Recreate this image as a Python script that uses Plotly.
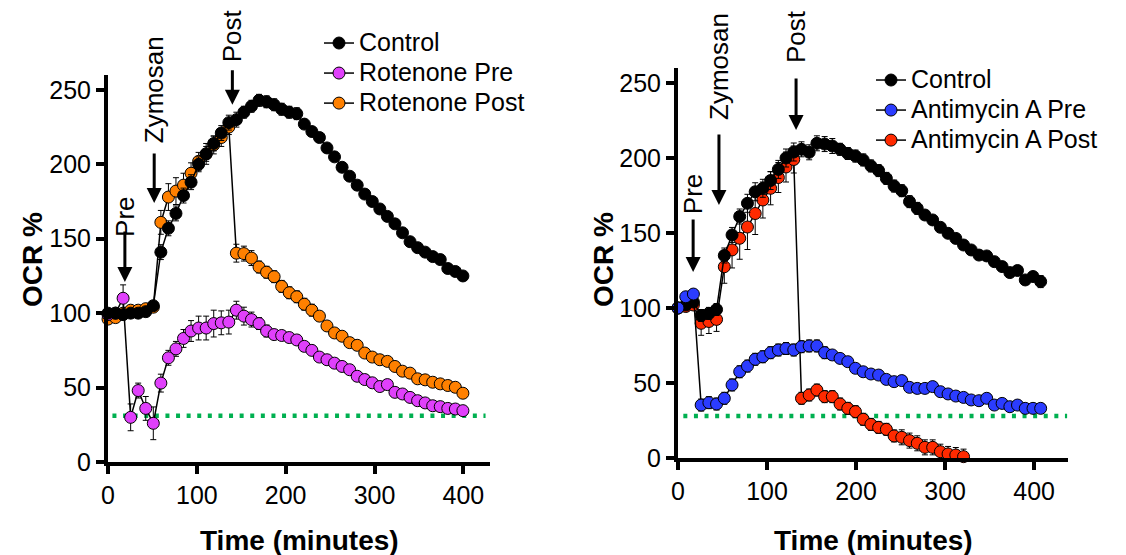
import plotly.graph_objects as go

# ---------------- data: left panel (Rotenone) ----------------
time_rot = [0, 8.5, 17, 25.5, 34, 42.5, 51, 59.5, 68, 76.5, 85, 93.5, 102, 110.5, 119, 127.5,
            136, 144.5, 153, 161.5, 170, 178.5, 187, 195.5, 204, 212.5, 221, 229.5, 238, 246.5,
            255, 263.5, 272, 280.5, 289, 297.5, 306, 314.5, 323, 331.5, 340, 348.5, 357, 365.5,
            374, 382.5, 391, 399.5]
control_rot = [100, 100, 99, 100, 100, 101, 105, 141, 157, 167, 179, 188, 200, 207, 214, 221,
               228, 230, 235, 239, 243, 242, 240, 237, 235, 234, 227, 222, 218, 211, 205, 198,
               192, 186, 180, 175, 170, 165, 160, 154, 148, 144, 141, 138, 136, 130, 128, 125]
control_rot_err = [2, 2, 2, 2, 2, 2, 3, 5, 5, 5, 5, 5, 5, 5, 5, 5, 5, 5, 4, 4, 4, 4, 4, 4,
                   4, 4, 3, 3, 3, 3, 3, 3, 3, 3, 3, 3, 3, 3, 3, 3, 3, 3, 3, 3, 3, 3, 3, 3]
rot_pre = [99, 100, 110, 30, 48, 36, 26, 53, 70, 76, 83, 88, 90, 90, 93, 93.5,
           94, 102, 98, 95.7, 93, 88, 85.6, 85, 83.6, 82, 77.7, 75, 70.5, 68.7, 66.4, 64.2,
           62, 57.6, 55.4, 53.2, 50.7, 52, 46.8, 45.7, 43.4, 41.2, 39.7, 37.8, 37.2, 36, 35.6, 34.5]
rot_pre_err = [3, 3, 9, 9, 5, 8, 11, 6, 5, 5, 6, 7, 8, 8, 9, 8, 8, 6, 6, 5, 4, 4, 3, 3,
               3, 3, 3, 3, 3, 3, 3, 3, 3, 3, 3, 3, 3, 3, 3, 3, 3, 3, 3, 3, 3, 3, 3, 3]
rot_post = [96, 97, 100, 102, 102, 103, 104, 161, 178, 182, 186, 194, 202, 207, 213, 218,
            225, 140.3, 140, 137, 131, 127.5, 124.5, 118, 113.7, 111, 106, 102, 98, 91.4, 86.7, 84.5,
            80.2, 78.4, 73.2, 70.5, 68.7, 67.6, 64.2, 61, 59.7, 55.9, 55.2, 53.6, 52.5, 51.4, 50.2, 46.2]
rot_post_err = [3, 3, 3, 3, 3, 3, 3, 8, 9, 9, 8, 7, 6, 7, 6, 6, 5, 6, 5, 5, 4, 4, 4, 4,
                4, 4, 4, 4, 3, 3, 3, 3, 3, 3, 3, 3, 3, 3, 3, 3, 3, 3, 3, 3, 3, 3, 3, 3]
threshold_rot = 31
threshold_rot_x = [5, 425]

# ---------------- data: right panel (Antimycin A) ----------------
time_ant = [0, 8.7, 17.3, 26, 34.7, 43.3, 52, 60.7, 69.3, 78, 86.7, 95.3, 104, 112.7, 121.3, 130,
            138.7, 147.3, 156, 164.7, 173.3, 182, 190.7, 199.3, 208, 216.7, 225.3, 234, 242.7, 251.3,
            260, 268.7, 277.3, 286, 294.7, 303.3, 312, 320.7, 329.3, 338, 346.7, 355.3, 364, 372.7,
            381.3, 390, 398.7, 407.3]
control_ant = [100, 102, 104, 95, 96.4, 99, 135, 148.7, 161, 169.8, 177.5, 179.8, 185, 192.4, 200, 204,
               205.8, 203.8, 209.8, 209.3, 208, 205.8, 203, 201.3, 198.7, 194.7, 191.6, 186.4, 181.3,
               178.2, 170.9, 166.4, 162, 158.7, 153.8, 149.8, 146.4, 142, 138.7, 135.3, 134.7, 130.9,
               127.6, 123.6, 125, 118.7, 121, 117.6]
control_ant_err = [3, 3, 3, 4, 4, 4, 5, 5, 5, 6, 6, 6, 6, 6, 6, 6, 5, 5, 5, 5, 5, 4, 4, 4,
                   4, 4, 4, 4, 4, 4, 4, 4, 3, 3, 3, 3, 3, 3, 3, 3, 3, 3, 3, 3, 3, 3, 3, 4]
ant_pre = [100, 107.5, 109.3, 35.3, 36.9, 36, 39.8, 48.7, 57.5, 61.3, 65.8, 67.5, 70.2, 72, 73, 72,
           74.2, 74.7, 74.7, 70.2, 68.7, 66.4, 64.2, 59.8, 57.5, 56, 55.3, 52.4, 50.9, 51.6, 47.1,
           46.4, 46.4, 47.6, 44.2, 42.7, 41.3, 40.4, 38.7, 38.2, 39.8, 35.3, 36.4, 34.2, 35.3, 33.1,
           33.1, 33.1]
ant_pre_err = [3, 3, 3, 4, 4, 4, 4, 4, 4, 4, 4, 4, 4, 4, 4, 4, 4, 4, 4, 4, 3, 3, 3, 3,
               3, 3, 3, 3, 3, 3, 3, 3, 3, 3, 3, 3, 3, 3, 3, 3, 3, 3, 3, 3, 3, 3, 3, 3]
ant_post = [100, 101, 102, 89.8, 91, 92.4, 127.5, 138.7, 146.5, 154, 163, 172, 179.8, 187, 194, 199,
            39.8, 42, 45.3, 40.9, 40.9, 36, 33.1, 30.9, 25.8, 22.4, 20.4, 19.1, 14.7, 13.8, 11.6,
            9.8, 7.1, 7.1, 4.2, 2.7, 2, 0.9]
ant_post_err = [3, 3, 3, 8, 8, 8, 11, 12, 14, 15, 14, 12, 11, 10, 10, 9, 4, 4, 4, 4, 4, 4, 4, 4,
                4, 4, 4, 4, 4, 5, 5, 5, 5, 5, 5, 5, 5, 5]
threshold_ant = 28
threshold_ant_x = [6, 437]

x_ticks = [0, 100, 200, 300, 400]
y_ticks = [0, 50, 100, 150, 200, 250]

FONT = "Liberation Sans, Arial, sans-serif"
PINK = "#e040fb"
ORANGE = "#ff8000"
BLUE = "#2b3cff"
RED = "#ff2a00"
GREEN = "#00b050"
W, H = 1126, 555

fig = go.Figure()


def legend_label(txt):
    return '<span style="font-size:25px">' + txt + '</span>'


def add_series(x, y, err, color, name, xa, ya, legend, rank):
    fig.add_trace(go.Scatter(
        x=x, y=y, mode="lines+markers", name=legend_label(name),
        line=dict(color="black", width=1.5),
        marker=dict(size=12, color=color, line=dict(color="black", width=1)),
        error_y=dict(type="data", array=err, color="black", thickness=1, width=3),
        xaxis=xa, yaxis=ya, legend=legend, legendrank=rank, cliponaxis=False))


def add_threshold(xs, level, xa, ya):
    fig.add_trace(go.Scatter(
        x=xs, y=[level, level], mode="lines", showlegend=False, hoverinfo="skip",
        line=dict(color=GREEN, width=4.5, dash="4px,6.6px"),
        xaxis=xa, yaxis=ya, cliponaxis=False))


# left panel
add_threshold(threshold_rot_x, threshold_rot, "x", "y")
add_series(time_rot, rot_post, rot_post_err, ORANGE, "Rotenone Post", "x", "y", "legend", 3)
add_series(time_rot, rot_pre, rot_pre_err, PINK, "Rotenone Pre", "x", "y", "legend", 2)
add_series(time_rot, control_rot, control_rot_err, "black", "Control", "x", "y", "legend", 1)

# right panel
add_threshold(threshold_ant_x, threshold_ant, "x2", "y2")
add_series(time_ant[:len(ant_post)], ant_post, ant_post_err, RED, "Antimycin A Post", "x2", "y2", "legend2", 3)
add_series(time_ant, control_ant, control_ant_err, "black", "Control", "x2", "y2", "legend2", 1)
add_series(time_ant, ant_pre, ant_pre_err, BLUE, "Antimycin A Pre", "x2", "y2", "legend2", 2)

axis_common = dict(showline=True, linewidth=4, linecolor="black", ticks="outside",
                   ticklen=8, tickwidth=4, tickcolor="black", showgrid=False, zeroline=False,
                   automargin=False,
                   tickfont=dict(family=FONT, size=25, color="black"))

fig.update_layout(
    width=W, height=H, margin=dict(l=0, r=0, t=0, b=0, autoexpand=False),
    paper_bgcolor="white", plot_bgcolor="white",
    font=dict(family=FONT, color="black"),
    xaxis=dict(domain=[108 / W, 490 / W], range=[0, 430], tickvals=x_ticks,
               anchor="y", **axis_common),
    yaxis=dict(domain=[(H - 462) / H, (H - 75) / H], range=[0, 260], tickvals=y_ticks,
               anchor="x", **axis_common),
    xaxis2=dict(domain=[678 / W, 1068 / W], range=[0, 438], tickvals=x_ticks,
                anchor="y2", **axis_common),
    yaxis2=dict(domain=[(H - 458) / H, (H - 68) / H], range=[0, 260], tickvals=y_ticks,
                anchor="x2", **axis_common),
    legend=dict(x=319 / W, y=1 - 23 / H, xanchor="left", yanchor="top",
                bgcolor="rgba(0,0,0,0)", font=dict(family=FONT, size=20.8, color="black")),
    legend2=dict(x=871 / W, y=1 - 60 / H, xanchor="left", yanchor="top",
                 bgcolor="rgba(0,0,0,0)", font=dict(family=FONT, size=20.8, color="black")),
    showlegend=True,
)

annotations = []
# axis titles
for xc in [(108 + 490) / 2 / W, (678 + 1068) / 2 / W]:
    annotations.append(dict(text="<b>Time (minutes)</b>", x=xc, y=1 - 540 / H, xref="paper",
                            yref="paper", showarrow=False, xanchor="center", yanchor="middle",
                            font=dict(family=FONT, size=28, color="black")))
for xc in [32 / W, 603 / W]:
    annotations.append(dict(text="<b>OCR %</b>", x=xc, y=1 - 260 / H, xref="paper",
                            yref="paper", showarrow=False, textangle=-90, xanchor="center",
                            yanchor="middle", font=dict(family=FONT, size=28, color="black")))

# injection markers: (label, x, arrow tip y, arrow length px, label centre in px from top)
events_rot = [("Pre", 19, 121, 52, 217), ("Zymosan", 52, 174, 51, 90), ("Post", 140, 240, 36, 36)]
events_ant = [("Pre", 17, 124, 54, 194), ("Zymosan", 46, 168.7, 72, 66), ("Post", 132.6, 218.7, 53, 37)]
for evs, xr, yr in [(events_rot, "x", "y"), (events_ant, "x2", "y2")]:
    for label, ex, tip, length, ty in evs:
        annotations.append(dict(text="", x=ex, y=tip, xref=xr, yref=yr, showarrow=True,
                                ax=0, ay=-length, arrowhead=2, arrowsize=1, arrowwidth=3,
                                arrowcolor="black"))
        annotations.append(dict(text=label, x=ex, y=1 - ty / H, xref=xr, yref="paper",
                                showarrow=False, textangle=-90, xanchor="center",
                                yanchor="middle", font=dict(family=FONT, size=26, color="black")))
fig.update_layout(annotations=annotations)

fig.write_html("out.html", config={"displayModeBar": False},
               post_script="document.body.style.margin='0';")
